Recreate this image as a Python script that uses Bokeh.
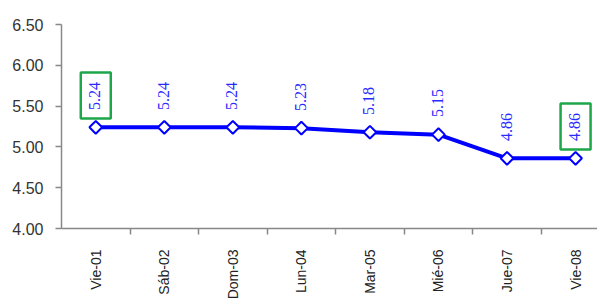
import math
from bokeh.plotting import figure
from bokeh.models import ColumnDataSource, Range1d, FixedTicker, NumeralTickFormatter, InlineStyleSheet
from bokeh.embed import file_html
from bokeh.resources import INLINE
try:
    from bokeh.models import HTMLLabelSet as LSet
except ImportError:
    from bokeh.models import LabelSet as LSet

days = ["Vie-01", "Sáb-02", "Dom-03", "Lun-04", "Mar-05", "Mié-06", "Jue-07", "Vie-08"]
rates = [5.24, 5.24, 5.24, 5.23, 5.18, 5.15, 4.86, 4.86]
highlight = [True, False, False, False, False, False, False, True]
y_ticks = [4.00, 4.50, 5.00, 5.50, 6.00, 6.50]

BOX_DY = 0.39  # style: vertical shift of the highlight box above its point (data units)

xs = list(range(len(days)))
labels = [f"{v:.2f}" for v in rates]
src = ColumnDataSource(dict(x=xs, y=rates, label=labels))
hi = [i for i, h in enumerate(highlight) if h]
src_hi = ColumnDataSource(dict(x=[xs[i] for i in hi], yb=[rates[i] + BOX_DY for i in hi]))

p = figure(width=597, height=302, output_backend="svg", toolbar_location=None,
           x_range=Range1d(-0.5, 7.32), y_range=Range1d(4.0, 6.5),
           min_border_left=61, min_border_right=0, min_border_top=24, min_border_bottom=67)
p.outline_line_color = None
p.grid.visible = False

p.line("x", "y", source=src, line_color="#0000FF", line_width=4)
p.scatter("x", "y", source=src, marker="square", angle=math.pi / 4, size=9,
          fill_color="white", line_color="#0000FF", line_width=2)

p.rect("x", "yb", source=src_hi, width=30, height=46, width_units="screen",
       height_units="screen", fill_color=None, line_color="#1ea64b", line_width=2.5)

labelset = LSet(source=src, x="x", y="y", text="label", angle=90, angle_units="deg",
                text_align="left", text_baseline="middle", y_offset=17,
                text_color="#2a2aff", text_font="Arial",
                text_font_size="16px")
try:
    labelset.stylesheets = [InlineStyleSheet(
        css="* { font-family: 'Liberation Sans', Arial, sans-serif !important; }")]
except Exception:
    pass
p.add_layout(labelset)

# x axis
xa = p.xaxis[0]
xa.ticker = FixedTicker(ticks=xs, minor_ticks=[x + 0.5 for x in xs])
xa.major_label_overrides = {i: d for i, d in enumerate(days)}
xa.major_label_orientation = math.pi / 2
xa.major_tick_out = 0
xa.major_tick_in = 0
xa.minor_tick_out = 6
xa.minor_tick_in = 0
xa.minor_tick_line_color = "#888888"
xa.minor_tick_line_width = 1.5
xa.major_label_standoff = 15
xa.axis_line_color = "#888888"
xa.axis_line_width = 1.5
xa.major_label_text_font = "Liberation Sans"
xa.major_label_text_font_size = "14px"
xa.major_label_text_color = "#222222"

ya = p.yaxis[0]
ya.ticker = FixedTicker(ticks=y_ticks)
ya.formatter = NumeralTickFormatter(format="0.00")
ya.major_tick_out = 6
ya.major_tick_in = 0
ya.minor_tick_out = 0
ya.minor_tick_in = 0
ya.major_tick_line_color = "#888888"
ya.major_tick_line_width = 1.5
ya.axis_line_color = "#888888"
ya.axis_line_width = 1.5
ya.major_label_standoff = 12
ya.major_label_text_font = "Liberation Sans"
ya.major_label_text_font_size = "16px"
ya.major_label_text_color = "#333333"

open("out.html", "w").write(file_html(p, INLINE))
